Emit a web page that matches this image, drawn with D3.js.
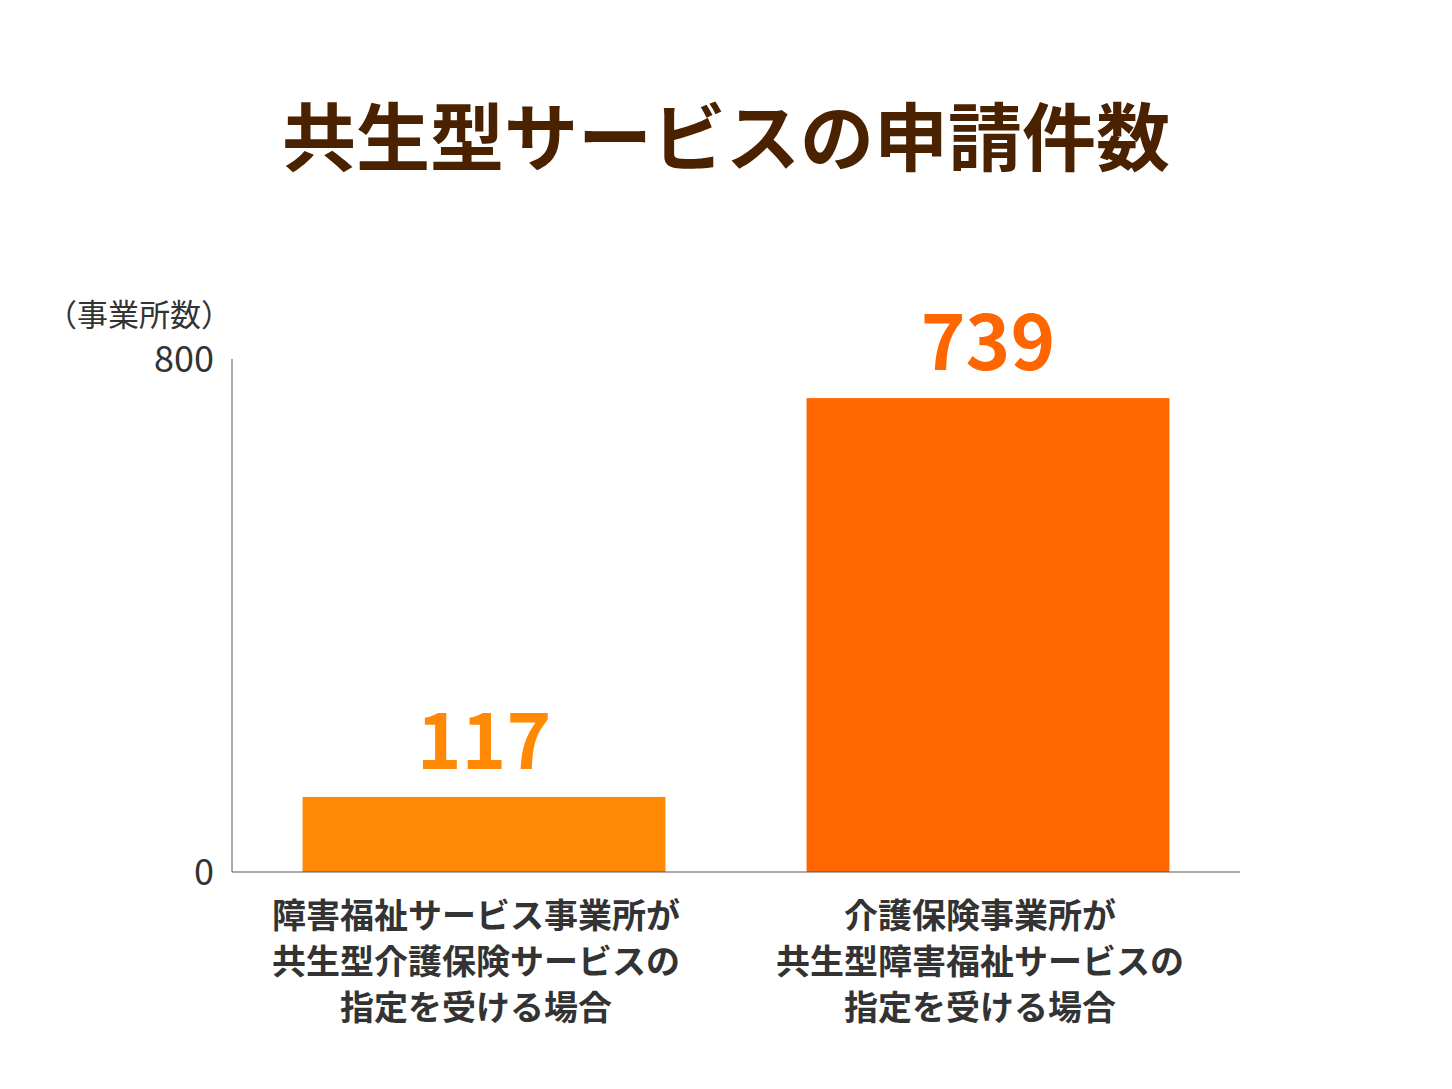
<!DOCTYPE html>
<html lang="ja">
<head>
<meta charset="UTF-8">
<script src="https://cdn.jsdelivr.net/npm/d3@7"></script>
<style>body{margin:0;background:#fff;font-family:"Noto Sans CJK JP","Noto Sans",sans-serif;}</style>
</head>
<body>
<div id="chart"></div>
<script>
const categories = [
  ["障害福祉サービス事業所が", "共生型介護保険サービスの", "指定を受ける場合"],
  ["介護保険事業所が", "共生型障害福祉サービスの", "指定を受ける場合"]
];
const values = [117, 739];
const colors = ["#FF8905", "#FF6600"];
const yTicks = [0, 800];

const W = 1452, H = 1089;
const svg = d3.select("#chart").append("svg").attr("width", W).attr("height", H);

svg.append("text").attr("x", 726).attr("y", 165).attr("text-anchor", "middle")
  .attr("font-size", 74).attr("font-weight", 700).attr("fill", "#4A2200")
  .text("共生型サービスの申請件数");

const x = d3.scaleBand().domain([0, 1]).range([232, 1240]);
const y = d3.scaleLinear().domain([0, 800]).range([872, 359]);
const bw = x.bandwidth() * 0.72;

svg.selectAll("rect.bar").data(values).join("rect").attr("class", "bar")
  .attr("x", (d, i) => x(i) + (x.bandwidth() - bw) / 2)
  .attr("y", d => y(d)).attr("width", bw).attr("height", d => y(0) - y(d))
  .attr("fill", (d, i) => colors[i]);

svg.selectAll("text.val").data(values).join("text").attr("class", "val")
  .attr("x", (d, i) => x(i) + x.bandwidth() / 2).attr("y", d => y(d) - 28)
  .attr("text-anchor", "middle").attr("font-size", 76).attr("font-weight", 700)
  .attr("fill", (d, i) => colors[i]).text(d => d);

// axes
svg.append("line").attr("x1", 232).attr("x2", 232).attr("y1", y(800)).attr("y2", y(0)).attr("stroke", "#555");
svg.append("line").attr("x1", 232).attr("x2", 1240).attr("y1", y(0)).attr("y2", y(0)).attr("stroke", "#555");
svg.selectAll("text.tick").data(yTicks).join("text").attr("class", "tick")
  .attr("x", 214).attr("y", d => y(d) + 13).attr("text-anchor", "end")
  .attr("font-size", 36).attr("fill", "#333").text(d => d);
svg.append("text").attr("x", 46).attr("y", 326).attr("font-size", 31).attr("fill", "#333").text("（事業所数）");

categories.forEach((lines, i) => {
  const t = svg.append("text").attr("x", x(i) + x.bandwidth() / 2 - 8).attr("y", 928)
    .attr("text-anchor", "middle").attr("font-size", 34).attr("font-weight", 700).attr("fill", "#333");
  lines.forEach((l, j) => t.append("tspan").attr("x", x(i) + x.bandwidth() / 2 - 8).attr("dy", j ? 46 : 0).text(l));
});
</script>
</body>
</html>
